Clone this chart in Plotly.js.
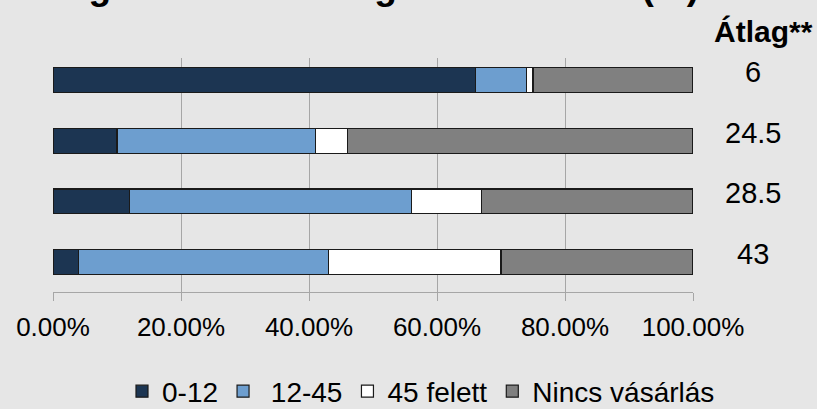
<!DOCTYPE html>
<html>
<head>
<meta charset="utf-8">
<script src="https://cdn.plot.ly/plotly-3.0.1.min.js"></script>
<style>
  html, body { margin: 0; padding: 0; background: #e6e6e6; }
  #chart { width: 817px; height: 409px; }
</style>
</head>
<body>
<div id="chart"></div>
<script>
// ---- data ----
const rows = [0, 1, 2, 3];
const seriesNames = ["0-12", " 12-45", "45 felett", "Nincs vásárlás"];
const v0_12 = [0.66, 0.10, 0.12, 0.04];
const v12_45 = [0.08, 0.31, 0.44, 0.39];
const v45plus = [0.01, 0.05, 0.11, 0.27];
const vNone = [0.25, 0.54, 0.33, 0.30];
const averages = ["6", "24.5", "28.5", "43"];
const averageHeader = "Átlag**";
const titleText = "megoszlása retail ágazatok között (%)";
const xTickVals = [0, 0.2, 0.4, 0.6, 0.8, 1.0];

const colors = ["#1c3552", "#6d9ecf", "#ffffff", "#808080"];
const FONT = "Liberation Sans, Arial, sans-serif";
const seriesVals = [v0_12, v12_45, v45plus, vNone];

const traces = seriesVals.map((vals, i) => ({
  type: "bar",
  orientation: "h",
  name: seriesNames[i],
  x: vals,
  y: rows,
  width: 0.41,
  marker: { color: colors[i], line: { color: "#1a1a1a", width: 1.2 } },
  hoverinfo: "skip"
}));

const annotations = [];
annotations.push({
  xref: "paper", yref: "paper", x: -0.031, y: 1.306,
  xanchor: "left", yanchor: "middle", showarrow: false,
  text: "<b>" + titleText + "</b>",
  font: { family: FONT, size: 37, color: "#000" }
});
annotations.push({
  xref: "paper", yref: "paper", x: 1.11, y: 1.115,
  xanchor: "center", yanchor: "middle", showarrow: false,
  text: "<b>" + averageHeader + "</b>",
  font: { family: FONT, size: 30, color: "#000" }
});
averages.forEach((a, i) => {
  annotations.push({
    xref: "paper", yref: "y", x: 1.094, y: rows[i],
    xanchor: "center", yanchor: "middle", showarrow: false, yshift: 8,
    text: a,
    font: { family: FONT, size: 29, color: "#000" }
  });
});

const layout = {
  width: 817, height: 409,
  paper_bgcolor: "#e6e6e6",
  plot_bgcolor: "#e6e6e6",
  margin: { l: 53, r: 124, t: 58, b: 117, autoexpand: false },
  barmode: "stack",
  showlegend: true,
  font: { family: FONT, color: "#000" },
  xaxis: {
    range: [0, 1],
    tickvals: xTickVals,
    tickformat: ".2%",
    showgrid: true, gridcolor: "#a6a6a6", gridwidth: 1,
    zeroline: false,
    showline: true, linecolor: "#a6a6a6", linewidth: 1,
    ticks: "outside", ticklen: 8, tickcolor: "#a6a6a6", tickwidth: 1,
    ticklabelstandoff: 4,
    tickfont: { family: FONT, size: 26, color: "#000" },
    automargin: false,
    fixedrange: true
  },
  yaxis: {
    range: [3.494, -0.363],
    showticklabels: false, showgrid: false, zeroline: false, showline: false,
    ticks: "", automargin: false, fixedrange: true
  },
  legend: {
    orientation: "h",
    x: 0.575, xanchor: "center",
    y: -0.425, yanchor: "middle",
    bgcolor: "rgba(0,0,0,0)",
    font: { family: FONT, size: 28, color: "#000" },
    itemwidth: 30,
    traceorder: "normal"
  },
  annotations: annotations
};

Plotly.newPlot("chart", traces, layout, { displayModeBar: false, staticPlot: true });
</script>
</body>
</html>
